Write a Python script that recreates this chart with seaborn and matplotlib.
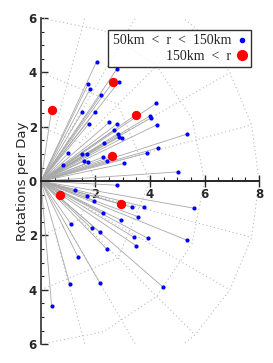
import numpy as np
import pandas as pd
import matplotlib
matplotlib.use("Agg")
import matplotlib.pyplot as plt
from matplotlib.lines import Line2D
from matplotlib.ticker import MultipleLocator, FixedLocator, FuncFormatter
import seaborn as sns

# points (x, y in rotations per day)
blue_x = [2.04, 2.78, 1.74, 1.80, 2.86, 2.20, 1.52, 1.98, 1.77, 2.50, 2.78,
          2.68, 2.83, 2.87, 2.97, 2.30, 1.00, 1.50, 1.70, 2.29, 1.58, 1.74,
          2.43, 0.81, 3.06, 4.22, 4.00, 4.05, 4.24, 5.35, 4.28, 3.88, 5.02,
          1.25, 1.68, 1.94, 2.78, 3.33, 2.29, 2.92, 1.11, 1.86, 2.17, 2.42,
          1.35, 1.06, 2.17, 0.39, 3.78, 5.63, 3.57, 3.42, 3.91, 3.49, 5.37,
          4.49]
blue_y = [4.40, 4.12, 3.59, 3.39, 3.66, 3.17, 2.55, 2.55, 2.12, 2.16, 2.10,
          1.875, 1.75, 1.62, 1.58, 1.39, 1.02, 0.99, 0.99, 0.89, 0.735, 0.69,
          0.735, 0.59, 0.65, 2.86, 2.40, 2.34, 2.07, 1.73, 1.22, 1.03, 0.34,
          -0.31, -0.55, -0.72, -0.15, -0.96, -1.18, -1.43, -1.59, -1.74, -1.89,
          -2.51, -2.78, -3.80, -3.76, -4.58, -0.94, -1.00, -1.31, -2.07, -2.10,
          -2.38, -2.18, -3.91]
red_x = [2.63, 0.39, 3.49, 2.59, 0.70, 2.94]
red_y = [3.64, 2.62, 2.45, 0.91, -0.51, -0.86]

label_small = "50km  <  r  <  150km"
label_big = "150km  <  r"

y_ticks = [-6, -4, -2, 0, 2, 4, 6]
x_ticks = [2, 4, 6, 8]

df = pd.DataFrame({
    "x": blue_x + red_x,
    "y": blue_y + red_y,
    "group": ["small"] * len(blue_x) + ["big"] * len(red_x),
})

sns.set_style("ticks")
plt.rcParams["font.family"] = ["DejaVu Sans"]

fig = plt.figure(figsize=(2.73, 3.63), dpi=100)
ax = fig.add_axes([0.150, 0.052, 0.799, 0.898])

# dotted polar grid
grid_kw = dict(color="#bdbdbd", lw=0.8, ls=(0, (1, 2.5)), zorder=1)
for r, step in [(2, 45), (4, 45), (6, 22.5), (8, 15)]:
    th = np.deg2rad(np.arange(-90, 90 + step, step))
    ax.plot(r * np.cos(th), r * np.sin(th), **grid_kw)
for a in range(-75, 90, 15):
    if a == 0:
        continue
    t = np.deg2rad(a)
    ax.plot([2 * np.cos(t), 8 * np.cos(t)], [2 * np.sin(t), 8 * np.sin(t)], **grid_kw)

# spokes from origin
for x, y in zip(df["x"], df["y"]):
    ax.plot([0, x], [0, y], color="#a8a8a8", lw=0.6, zorder=2)

sns.scatterplot(data=df[df.group == "small"], x="x", y="y", color="#0000ff",
                s=9, linewidth=0, ax=ax, zorder=3, legend=False)
sns.scatterplot(data=df[df.group == "big"], x="x", y="y", color="#ff0000",
                s=45, linewidth=0, ax=ax, zorder=4, legend=False)

ax.set_xlim(0, 8)
ax.set_ylim(-6, 6)

ax.spines["top"].set_visible(False)
ax.spines["right"].set_visible(False)
ax.spines["bottom"].set_position(("data", 0))
ax.spines["bottom"].set_linewidth(1.4)
ax.spines["bottom"].set_zorder(5)
ax.spines["left"].set_linewidth(1.3)
ax.spines["left"].set_color("#404040")

ax.yaxis.set_major_locator(FixedLocator(y_ticks))
ax.yaxis.set_minor_locator(MultipleLocator(0.5))
ax.yaxis.set_major_formatter(FuncFormatter(lambda v, p: f"{abs(int(v))}"))
ax.xaxis.set_major_locator(FixedLocator(x_ticks))
ax.xaxis.set_minor_locator(MultipleLocator(0.5))

ax.tick_params(axis="y", which="major", direction="in", length=5, width=1,
               labelsize=8.5, pad=3)
ax.tick_params(axis="y", which="minor", direction="in", length=2.5, width=0.8)
ax.tick_params(axis="x", which="major", direction="inout", length=8, width=1,
               labelsize=8.5, pad=1)
ax.tick_params(axis="x", which="minor", direction="in", length=3, width=0.8)
for lab in ax.get_xticklabels() + ax.get_yticklabels():
    lab.set_fontweight("bold")

ax.set_xlabel("")
ax.set_ylabel("Rotations per Day", fontsize=9.5, labelpad=0)

handles = [
    Line2D([], [], ls="none", marker="o", color="#0000ff", markersize=3),
    Line2D([], [], ls="none", marker="o", color="#ff0000", markersize=7),
]
leg = ax.legend(handles, [label_small, label_big], loc="upper right",
                bbox_to_anchor=(0.965, 0.965), borderaxespad=0, markerfirst=False,
                frameon=True, fancybox=False, handlelength=0.6, handletextpad=0.5,
                borderpad=0.35, labelspacing=0.15, alignment="right",
                prop={"family": "Liberation Serif", "size": 10})
leg.get_frame().set_edgecolor("black")
leg.get_frame().set_linewidth(1.0)
leg.set_zorder(10)
for t in leg.get_texts():
    t.set_ha("right")
leg._legend_box.align = "right"

fig.savefig("out.png", dpi=100, facecolor="white")
